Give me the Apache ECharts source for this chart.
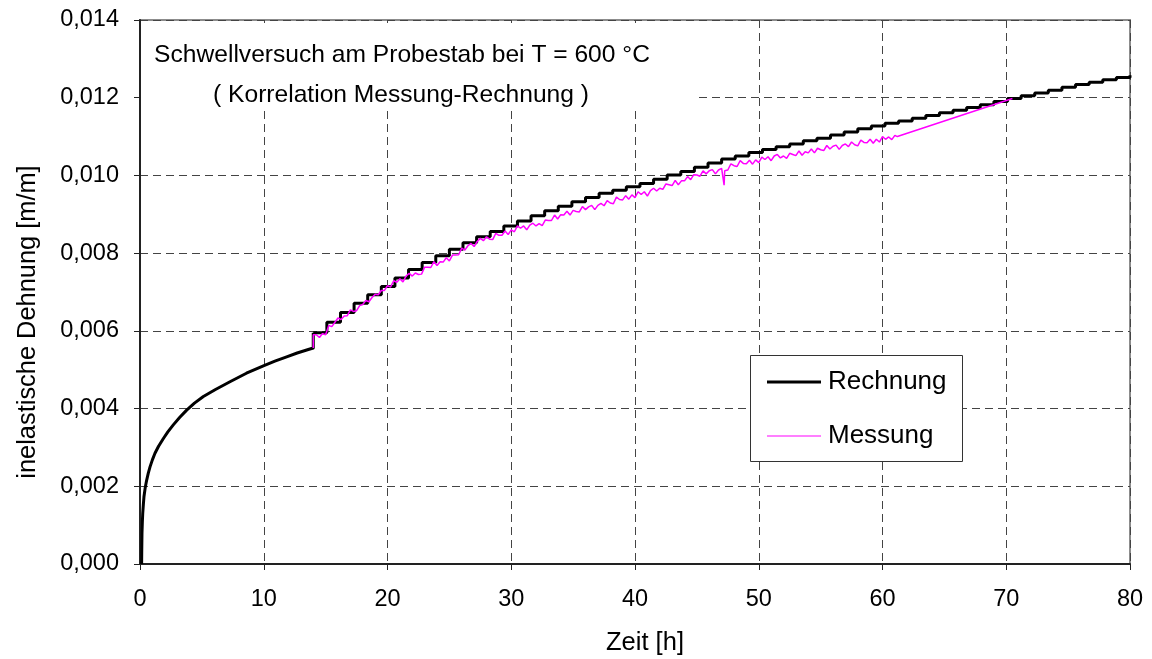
<!DOCTYPE html>
<html>
<head>
<meta charset="utf-8">
<script src="https://cdn.jsdelivr.net/npm/echarts@6/dist/echarts.min.js"></script>
<style>
  html, body { margin: 0; padding: 0; background: #fff; }
  #chart { width: 1152px; height: 659px; }
</style>
</head>
<body>
<div id="chart"></div>
<script>
// Axis setup
const xTicks = { min: 0, max: 80, interval: 10 };
const yTicks = { min: 0, max: 0.014, interval: 0.002 };

const titleLines = [
  'Schwellversuch am Probestab bei T = 600 °C',
  '( Korrelation Messung-Rechnung )'
];
const xAxisName = 'Zeit [h]';
const yAxisName = 'inelastische Dehnung [m/m]';
const seriesNames = ['Rechnung', 'Messung'];

// Rechnung: initial creep curve up to the first load change [Zeit h, Dehnung m/m]
const rechnungKriechen = [
  [0.13, 0.0], [0.14, 0.0003], [0.16, 0.00079], [0.19, 0.00108], [0.22, 0.0013],
  [0.27, 0.00153], [0.32, 0.00173], [0.42, 0.00196], [0.54, 0.00216], [0.67, 0.00234],
  [0.81, 0.0025], [1.0, 0.00268], [1.21, 0.00285], [1.5, 0.00303], [1.89, 0.00323],
  [2.25, 0.0034], [2.69, 0.00358], [3.2, 0.00377], [3.77, 0.00396], [4.4, 0.00414],
  [5.12, 0.00431], [6.1, 0.00449], [7.27, 0.00469], [8.6, 0.00491], [9.97, 0.0051],
  [10.9, 0.00522], [11.85, 0.00533], [12.7, 0.00543], [13.6, 0.00552], [14.0, 0.00556],
  [14.0, 0.00595]
];

// Rechnung: cyclic part, times of each load cycle and the strain level reached
const zyklusZeit = [
  14.0, 15.1, 16.2, 17.3, 18.4, 19.5, 20.6, 21.7, 22.8, 23.9,
  25.0, 26.1, 27.2, 28.3, 29.4, 30.5, 31.6, 32.7, 33.8, 34.9,
  36.0, 37.1, 38.2, 39.3, 40.4, 41.5, 42.6, 43.7, 44.8, 45.9,
  47.0, 48.1, 49.2, 50.3, 51.4, 52.5, 53.6, 54.7, 55.8, 56.9,
  58.0, 59.1, 60.2, 61.3, 62.4, 63.5, 64.6, 65.7, 66.8, 67.9,
  69.0, 70.1, 71.2, 72.3, 73.4, 74.5, 75.6, 76.7, 77.8, 78.9, 80.0
];
const zyklusDehnung = [
  0.00595, 0.00622, 0.00647, 0.00671, 0.00693, 0.00714, 0.00736, 0.00758, 0.00776, 0.00793,
  0.00810, 0.00827, 0.00842, 0.00856, 0.00870, 0.00883, 0.00896, 0.00909, 0.00921, 0.00932,
  0.00943, 0.00954, 0.00962, 0.00971, 0.00979, 0.00990, 0.01001, 0.01010, 0.01021, 0.01032,
  0.01042, 0.01050, 0.01059, 0.01067, 0.01074, 0.01081, 0.01089, 0.01096, 0.01104, 0.01112,
  0.01120, 0.01127, 0.01134, 0.01140, 0.01147, 0.01154, 0.01161, 0.01168, 0.01175, 0.01182,
  0.01190, 0.01198, 0.01205, 0.01212, 0.01219, 0.01227, 0.01234, 0.01240, 0.01246, 0.01252, 0.01258
];

// Messung: measured strain [Zeit h, Dehnung m/m]
const messung = [
  [14.00, 0.00556], [14.00, 0.00590], [14.25, 0.00590], [14.50, 0.00583], [14.75, 0.00593],
  [15.00, 0.00590], [15.25, 0.00614], [15.50, 0.00611], [15.75, 0.00622], [16.00, 0.00633],
  [16.25, 0.00629], [16.50, 0.00638], [16.75, 0.00639], [17.00, 0.00654], [17.25, 0.00650],
  [17.50, 0.00652], [17.75, 0.00665], [18.00, 0.00668], [18.25, 0.00678], [18.50, 0.00675],
  [18.75, 0.00686], [19.00, 0.00694], [19.25, 0.00693], [19.50, 0.00704], [19.75, 0.00704],
  [20.00, 0.00716], [20.25, 0.00713], [20.50, 0.00729], [20.75, 0.00725], [21.00, 0.00734],
  [21.25, 0.00726], [21.50, 0.00741], [21.75, 0.00748], [22.00, 0.00741], [22.25, 0.00749],
  [22.50, 0.00745], [22.75, 0.00746], [23.00, 0.00764], [23.25, 0.00764], [23.50, 0.00763],
  [23.75, 0.00778], [24.00, 0.00768], [24.25, 0.00778], [24.50, 0.00777], [24.75, 0.00788],
  [25.00, 0.00780], [25.25, 0.00795], [25.50, 0.00795], [25.75, 0.00796], [26.00, 0.00813],
  [26.25, 0.00808], [26.50, 0.00819], [26.75, 0.00825], [27.00, 0.00817], [27.25, 0.00830],
  [27.50, 0.00838], [27.75, 0.00832], [28.00, 0.00842], [28.25, 0.00836], [28.50, 0.00835],
  [28.75, 0.00851], [29.00, 0.00846], [29.25, 0.00846], [29.50, 0.00857], [29.75, 0.00848],
  [30.00, 0.00860], [30.25, 0.00855], [30.50, 0.00870], [30.75, 0.00864], [31.00, 0.00870],
  [31.25, 0.00860], [31.50, 0.00872], [31.75, 0.00877], [32.00, 0.00870], [32.25, 0.00876],
  [32.50, 0.00871], [32.75, 0.00885], [33.00, 0.00884], [33.25, 0.00884], [33.50, 0.00898],
  [33.75, 0.00888], [34.00, 0.00899], [34.25, 0.00898], [34.50, 0.00908], [34.75, 0.00898],
  [35.00, 0.00910], [35.25, 0.00907], [35.50, 0.00906], [35.75, 0.00920], [36.00, 0.00912],
  [36.25, 0.00919], [36.50, 0.00923], [36.75, 0.00912], [37.00, 0.00923], [37.25, 0.00928],
  [37.50, 0.00922], [37.75, 0.00935], [38.00, 0.00929], [38.25, 0.00927], [38.50, 0.00944],
  [38.75, 0.00938], [39.00, 0.00937], [39.25, 0.00948], [39.50, 0.00939], [39.75, 0.00950],
  [40.00, 0.00943], [40.25, 0.00958], [40.50, 0.00951], [40.75, 0.00958], [41.00, 0.00947],
  [41.25, 0.00961], [41.50, 0.00967], [41.75, 0.00960], [42.00, 0.00967], [42.25, 0.00964],
  [42.50, 0.00978], [42.75, 0.00976], [43.00, 0.00974], [43.25, 0.00987], [43.50, 0.00976],
  [43.75, 0.00986], [44.00, 0.00986], [44.25, 0.00997], [44.50, 0.00989], [44.75, 0.01002],
  [45.00, 0.01001], [45.25, 0.00998], [45.50, 0.01012], [45.75, 0.01004], [46.00, 0.01012],
  [46.25, 0.01015], [46.50, 0.01004], [46.75, 0.01014], [47.00, 0.01018], [47.15, 0.01014],
  [47.20, 0.00975], [47.25, 0.01012], [47.50, 0.01014], [47.75, 0.01030], [48.00, 0.01025],
  [48.25, 0.01023], [48.50, 0.01038], [48.75, 0.01031], [49.00, 0.01030], [49.25, 0.01039],
  [49.50, 0.01029], [49.75, 0.01040], [50.00, 0.01033], [50.25, 0.01047], [50.50, 0.01041],
  [50.75, 0.01048], [51.00, 0.01038], [51.25, 0.01050], [51.50, 0.01054], [51.75, 0.01045],
  [52.00, 0.01050], [52.25, 0.01044], [52.50, 0.01057], [52.75, 0.01054], [53.00, 0.01051],
  [53.25, 0.01063], [53.50, 0.01052], [53.75, 0.01061], [54.00, 0.01058], [54.25, 0.01068],
  [54.50, 0.01058], [54.75, 0.01070], [55.00, 0.01066], [55.25, 0.01064], [55.50, 0.01077],
  [55.75, 0.01068], [56.00, 0.01075], [56.25, 0.01078], [56.50, 0.01067], [56.75, 0.01077],
  [57.00, 0.01081], [57.25, 0.01074], [57.50, 0.01086], [57.75, 0.01079], [58.00, 0.01076],
  [58.25, 0.01091], [58.50, 0.01085], [58.75, 0.01084], [59.00, 0.01093], [59.25, 0.01083],
  [59.50, 0.01093], [59.75, 0.01086], [60.00, 0.01100], [60.25, 0.01093], [60.50, 0.01099],
  [60.75, 0.01092], [61.00, 0.01103], [61.20, 0.01100], [70.50, 0.01198]
];

const FONT = '"Liberation Sans", Arial, sans-serif';
const RECHNUNG_COLOR = '#000000';
const MESSUNG_COLOR = '#ff00ff';

const chart = echarts.init(document.getElementById('chart'), null, { renderer: 'canvas' });
const zyklen = zyklusZeit.map((t, i) => [t, zyklusDehnung[i]]);

// Legend box, drawn as a framed panel with line samples
const legendBox = { x: 750.5, y: 355.5, w: 212, h: 106 };
const legendRows = [
  { name: seriesNames[0], color: RECHNUNG_COLOR, width: 3, y: 382 },
  { name: seriesNames[1], color: MESSUNG_COLOR, width: 1.2, y: 436 }
];
const legendGraphics = [
  {
    type: 'rect', z: 10, silent: true,
    shape: { x: legendBox.x, y: legendBox.y, width: legendBox.w, height: legendBox.h },
    style: { fill: '#ffffff', stroke: '#333333', lineWidth: 1 }
  }
];
legendRows.forEach(r => {
  legendGraphics.push({
    type: 'line', z: 11, silent: true,
    shape: { x1: 767, y1: r.y, x2: 821, y2: r.y },
    style: { stroke: r.color, lineWidth: r.width }
  });
  legendGraphics.push({
    type: 'text', z: 11, silent: true, x: 828, y: r.y,
    style: { text: r.name, font: '26px ' + FONT, fill: '#000', textAlign: 'left', textVerticalAlign: 'middle' }
  });
});

chart.setOption({
  animation: false,
  backgroundColor: '#ffffff',
  textStyle: { fontFamily: FONT },
  grid: {
    left: 140, right: 22, top: 20, bottom: 95,
    show: true, borderColor: '#8c8c8c', borderWidth: 2,
    backgroundColor: 'transparent'
  },
  xAxis: {
    type: 'value',
    min: xTicks.min, max: xTicks.max, interval: xTicks.interval,
    axisLine: { show: true, onZero: false, lineStyle: { color: '#222', width: 2 } },
    axisTick: { show: true, length: 6, lineStyle: { color: '#222', width: 1 } },
    axisLabel: { fontFamily: FONT, fontSize: 23.5, color: '#000', margin: 24 },
    splitLine: { show: true, lineStyle: { color: '#444', width: 1, type: [8, 5] } }
  },
  yAxis: {
    type: 'value',
    min: yTicks.min, max: yTicks.max, interval: yTicks.interval,
    axisLine: { show: true, onZero: false, lineStyle: { color: '#222', width: 2 } },
    axisTick: { show: true, length: 6, lineStyle: { color: '#222', width: 1 } },
    axisLabel: {
      fontFamily: FONT, fontSize: 23.5, color: '#000', margin: 21,
      formatter: v => v.toFixed(3).replace('.', ',')
    },
    splitLine: { show: true, lineStyle: { color: '#444', width: 1, type: [8, 5] } }
  },
  graphic: [
    {
      type: 'rect', z: 1, silent: true,
      shape: { x: 141, y: 23, width: 553, height: 84 },
      style: { fill: '#ffffff' }
    },
    {
      type: 'text', z: 3, silent: true, x: 402, y: 55,
      style: { text: titleLines[0], font: '24.6px ' + FONT, fill: '#000', textAlign: 'center', textVerticalAlign: 'middle' }
    },
    {
      type: 'text', z: 3, silent: true, x: 401, y: 95,
      style: { text: titleLines[1], font: '24.6px ' + FONT, fill: '#000', textAlign: 'center', textVerticalAlign: 'middle' }
    },
    {
      type: 'text', z: 3, silent: true, x: 645, y: 643,
      style: { text: xAxisName, font: '25.5px ' + FONT, fill: '#000', textAlign: 'center', textVerticalAlign: 'middle' }
    },
    {
      type: 'text', z: 3, silent: true, x: 28, y: 322, rotation: Math.PI / 2,
      style: { text: yAxisName, font: '25.4px ' + FONT, fill: '#000', textAlign: 'center', textVerticalAlign: 'middle' }
    }
  ].concat(legendGraphics),
  series: [
    {
      name: seriesNames[0], type: 'line', data: rechnungKriechen,
      showSymbol: false, symbol: 'none', smooth: false, z: 3,
      lineStyle: { color: RECHNUNG_COLOR, width: 3, join: 'round' }
    },
    {
      name: seriesNames[0], type: 'line', data: zyklen, step: 'end',
      showSymbol: false, symbol: 'none', z: 3,
      lineStyle: { color: RECHNUNG_COLOR, width: 3 }
    },
    {
      name: seriesNames[1], type: 'line', data: messung,
      showSymbol: false, symbol: 'none', z: 4,
      lineStyle: { color: MESSUNG_COLOR, width: 1.5 }
    }
  ]
});
</script>
</body>
</html>
